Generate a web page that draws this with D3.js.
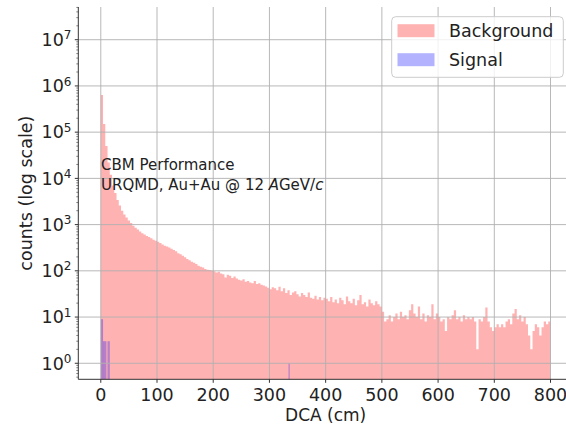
<!DOCTYPE html>
<html lang="en">
<head>
  <meta charset="utf-8">
  <title>DCA distribution</title>
  <script src="https://d3js.org/d3.v7.min.js"></script>
  <style>
    body { margin: 0; background: #fff; }
    svg { font-family: 'DejaVu Sans', sans-serif; }
    .tick-label { font-size: 17.5px; fill: #222; }
  </style>
</head>
<body>
  <div id="chart"></div>
  <script>
    // x ticks (cm) and y tick exponents
    var xTicks = [0, 100, 200, 300, 400, 500, 600, 700, 800];
    var yTickExps = [0, 1, 2, 3, 4, 5, 6, 7];

    // background histogram: 4 cm bins from 0 to 800 cm
    var bgBinWidth = 4;
    var bgCounts = [
      640000, 150000, 50000, 22000, 12000, 7000, 4800, 3400, 2600, 2000,
      1650, 1420, 1230, 1080, 950, 860, 780, 710, 650, 610,
      570, 540, 505, 470, 450, 425, 400, 372, 350, 335,
      318, 300, 282, 265, 240, 228, 212, 196, 180, 170,
      158, 150, 140, 128, 122, 118, 110, 106, 104, 100,
      98, 92, 96, 88, 84, 72, 82, 78, 70, 75,
      68, 64, 62, 66, 58, 60, 56, 54, 60, 52,
      54, 50, 48, 46, 43, 40, 44, 42, 38, 45,
      36, 42, 33, 38, 30, 34, 36, 31, 28, 33,
      30, 27, 34, 26, 25, 29, 24, 27, 23, 26,
      25, 22, 27, 21, 24, 20, 26, 23, 19, 28,
      22, 20, 25, 18, 23, 30, 19, 21, 17, 24,
      20, 18, 22, 19, 17, 13, 8, 9, 11, 8,
      10, 12, 9, 13, 10, 11, 9, 14, 19, 12,
      10, 17, 9, 12, 8, 11, 10, 19, 9, 12,
      10, 8, 9, 5, 10, 9, 11, 14, 9, 10,
      8, 11, 9, 10, 9, 10, 8, 2, 9, 8,
      10, 16, 8, 6, 5, 6, 7, 6, 7, 6,
      8, 9, 7, 12, 15, 9, 11, 8, 10, 7,
      4, 2, 5, 7, 6, 4, 6, 8, 7, 8
    ];

    // signal histogram: 2 cm bins, lower edges and counts
    var sigBinWidth = 2;
    var sigEdges = [0, 2, 4, 6, 8, 12, 14, 334];
    var sigCounts = [9, 9, 3, 3, 3, 3, 3, 1];

    var legendItems = ["Background", "Signal"];
    var legendColors = ["red", "blue"];

    var W = 566, H = 426;
    var margin = { left: 78.3, top: 7, right: 573, bottom: 379.3 };

    var svg = d3.select("#chart").append("svg")
      .attr("width", W)
      .attr("height", H);

    var x = d3.scaleLinear().domain([-40, 840]).range([margin.left, margin.right]);
    var y = d3.scaleLog().domain([0.45, 5.1e7]).range([margin.bottom, margin.top]);

    var plot = svg.append("g");

    // background histogram as a step area
    var bgPoints = bgCounts.map(function(c, i) { return [i * bgBinWidth, c]; });
    bgPoints.push([bgCounts.length * bgBinWidth, bgCounts[bgCounts.length - 1]]);

    var area = d3.area()
      .x(function(d) { return x(d[0]); })
      .y0(margin.bottom)
      .y1(function(d) { return y(d[1]); })
      .curve(d3.curveStepAfter);

    plot.append("path")
      .datum(bgPoints)
      .attr("d", area)
      .attr("fill", "red")
      .attr("fill-opacity", 0.3);

    // signal bars
    plot.selectAll(".sig")
      .data(sigEdges.map(function(e, i) { return { x0: e, c: sigCounts[i] }; }))
      .enter().append("rect")
      .attr("class", "sig")
      .attr("x", function(d) { return x(d.x0); })
      .attr("width", function(d) { return x(d.x0 + sigBinWidth) - x(d.x0); })
      .attr("y", function(d) { return y(d.c); })
      .attr("height", function(d) { return margin.bottom - y(d.c); })
      .attr("fill", "blue")
      .attr("fill-opacity", 0.3);

    // grid lines (drawn above patches like matplotlib)
    var grid = svg.append("g").attr("stroke", "#b0b0b0").attr("stroke-width", 0.9);
    xTicks.forEach(function(t) {
      grid.append("line")
        .attr("x1", x(t)).attr("x2", x(t))
        .attr("y1", margin.top).attr("y2", margin.bottom);
    });
    yTickExps.forEach(function(e) {
      grid.append("line")
        .attr("x1", margin.left).attr("x2", margin.right)
        .attr("y1", y(Math.pow(10, e))).attr("y2", y(Math.pow(10, e)));
    });

    // spines
    svg.append("line")
      .attr("x1", margin.left).attr("x2", margin.left)
      .attr("y1", margin.top).attr("y2", margin.bottom)
      .attr("stroke", "#333").attr("stroke-width", 1);
    svg.append("line")
      .attr("x1", margin.left).attr("x2", margin.right)
      .attr("y1", margin.bottom).attr("y2", margin.bottom)
      .attr("stroke", "#333").attr("stroke-width", 1);

    // x ticks
    var xAxis = svg.append("g");
    xTicks.forEach(function(t) {
      xAxis.append("line")
        .attr("x1", x(t)).attr("x2", x(t))
        .attr("y1", margin.bottom).attr("y2", margin.bottom + 3.5)
        .attr("stroke", "#333");
      xAxis.append("text")
        .attr("class", "tick-label")
        .attr("x", x(t)).attr("y", 400.5)
        .attr("text-anchor", "middle")
        .text(t);
    });

    // y ticks, major and minor
    var yAxis = svg.append("g");
    yTickExps.forEach(function(e) {
      var yy = y(Math.pow(10, e));
      yAxis.append("line")
        .attr("x1", margin.left - 3.5).attr("x2", margin.left)
        .attr("y1", yy).attr("y2", yy)
        .attr("stroke", "#333");
      var lab = yAxis.append("text")
        .attr("class", "tick-label")
        .attr("x", 71.5).attr("y", yy + 6.3)
        .attr("text-anchor", "end");
      lab.append("tspan").text("10");
      lab.append("tspan").attr("dy", -6.7).style("font-size", "12px").text(e);
    });
    for (var e = -1; e <= 7; e++) {
      for (var m = 2; m <= 9; m++) {
        var v = m * Math.pow(10, e);
        if (v < y.domain()[0] || v > y.domain()[1]) continue;
        yAxis.append("line")
          .attr("x1", margin.left - 2).attr("x2", margin.left)
          .attr("y1", y(v)).attr("y2", y(v))
          .attr("stroke", "#333").attr("stroke-width", 0.6);
      }
    }

    // axis labels
    svg.append("text")
      .attr("x", (margin.left + margin.right) / 2)
      .attr("y", 420.5)
      .attr("text-anchor", "middle")
      .style("font-size", "17px")
      .attr("fill", "#222")
      .text("DCA (cm)");

    svg.append("text")
      .attr("transform", "translate(32," + ((margin.top + margin.bottom) / 2) + ") rotate(-90)")
      .attr("text-anchor", "middle")
      .style("font-size", "17.5px")
      .attr("fill", "#222")
      .text("counts (log scale)");

    // annotation
    var ann = svg.append("g").style("font-size", "15px").attr("fill", "#222");
    ann.append("text").attr("x", 101).attr("y", 169.5).text("CBM Performance");
    var l2 = ann.append("text").attr("x", 101).attr("y", 190);
    l2.append("tspan").text("URQMD, Au+Au @ 12 ");
    l2.append("tspan").style("font-style", "italic").text("A");
    l2.append("tspan").text("GeV/");
    l2.append("tspan").style("font-style", "italic").text("c");

    // legend
    var leg = svg.append("g");
    leg.append("rect")
      .attr("x", 391.7).attr("y", 16.7)
      .attr("width", 171.6).attr("height", 60.6)
      .attr("rx", 4)
      .attr("fill", "white").attr("fill-opacity", 0.8)
      .attr("stroke", "#cccccc");
    legendItems.forEach(function(name, i) {
      var cy = 30.7 + i * 29;
      leg.append("rect")
        .attr("x", 397.5).attr("y", cy - 6.5)
        .attr("width", 37).attr("height", 13)
        .attr("fill", legendColors[i]).attr("fill-opacity", 0.3);
      leg.append("text")
        .attr("x", 449).attr("y", cy + 6.2)
        .style("font-size", "17.5px")
        .attr("fill", "#222")
        .text(name);
    });
  </script>
</body>
</html>
